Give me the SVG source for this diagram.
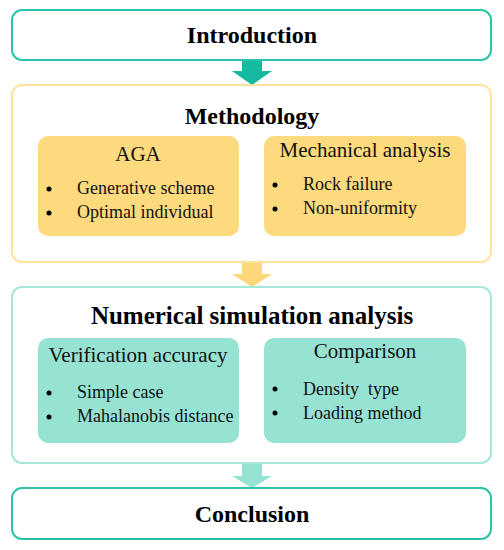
<svg xmlns="http://www.w3.org/2000/svg" width="504" height="550" viewBox="0 0 504 550">
<style>
text{font-family:"Liberation Serif",serif}
.title{font-weight:bold;font-size:24px;fill:#000;text-anchor:middle}
.sub{font-size:21px;fill:#111;text-anchor:middle}
.item{font-size:18px;fill:#111}
.teal{fill:#fff;stroke:#2cc3ab;stroke-width:2}
.yel{fill:#fff;stroke:#fde39c;stroke-width:2}
.lt{fill:#fff;stroke:#a6e7da;stroke-width:2}
.ybox{fill:#fdda7d}
.tbox{fill:#96e2d3}
.dot{fill:#000}
</style>
<rect width="504" height="550" fill="#fff"/>
<g id="connectors">
<polygon points="242,60 262,60 262,71 272,71 252,85 232,71 242,71" fill="#14b9a0"/>
<polygon points="242,262 262,262 262,274 272,274 252,287 232,274 242,274" fill="#fdd87a"/>
<polygon points="242,463 262,463 262,476 272,476 252,488 232,476 242,476" fill="#96e2d3"/>
</g>
<g id="introduction">
<rect class="teal" x="12" y="10" width="479" height="50" rx="10"/>
<text class="title" x="252" y="43">Introduction</text>
</g>
<g id="methodology">
<rect class="yel" x="12" y="85" width="479" height="177" rx="10"/>
<text class="title" x="252" y="124">Methodology</text>
</g>
<g id="aga">
<rect class="ybox" x="38" y="136" width="201" height="100" rx="10"/>
<text class="sub" x="138" y="161">AGA</text>
<circle class="dot" cx="49" cy="189" r="2.5"/>
<circle class="dot" cx="49" cy="213" r="2.5"/>
<text class="item" x="77" y="194">Generative scheme</text>
<text class="item" x="77" y="218">Optimal individual</text>
</g>
<g id="mechanical">
<rect class="ybox" x="264" y="136" width="202" height="100" rx="10"/>
<text class="sub" x="365" y="157">Mechanical analysis</text>
<circle class="dot" cx="275" cy="185" r="2.5"/>
<circle class="dot" cx="275" cy="209" r="2.5"/>
<text class="item" x="303" y="190">Rock failure</text>
<text class="item" x="303" y="214">Non-uniformity</text>
</g>
<g id="numerical">
<rect class="lt" x="12" y="287" width="479" height="176" rx="10"/>
<text class="title" x="252" y="324" style="font-size:25px">Numerical simulation analysis</text>
</g>
<g id="verification">
<rect class="tbox" x="38" y="338" width="201" height="105" rx="10"/>
<text class="sub" x="138" y="362">Verification accuracy</text>
<circle class="dot" cx="49" cy="393" r="2.5"/>
<circle class="dot" cx="49" cy="417" r="2.5"/>
<text class="item" x="77" y="398">Simple case</text>
<text class="item" x="77" y="422">Mahalanobis distance</text>
</g>
<g id="comparison">
<rect class="tbox" x="264" y="338" width="202" height="105" rx="10"/>
<text class="sub" x="365" y="358">Comparison</text>
<circle class="dot" cx="275" cy="389" r="2.5"/>
<circle class="dot" cx="275" cy="413" r="2.5"/>
<text class="item" x="303" y="395" xml:space="preserve">Density  type</text>
<text class="item" x="303" y="419">Loading method</text>
</g>
<g id="conclusion">
<rect class="teal" x="12" y="488" width="479" height="51" rx="10"/>
<text class="title" x="252" y="522">Conclusion</text>
</g>
</svg>
